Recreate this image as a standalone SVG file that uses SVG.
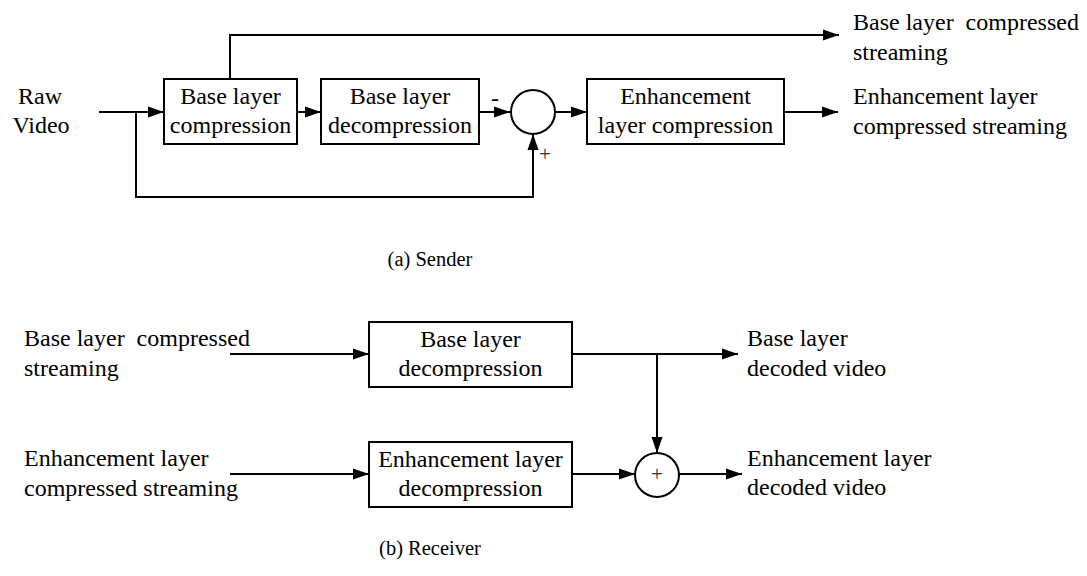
<svg xmlns="http://www.w3.org/2000/svg" width="1087" height="576" viewBox="0 0 1087 576">
<style>
text{font-family:"Liberation Serif","Times New Roman",serif;font-size:24px;fill:#000;white-space:pre}
.c{text-anchor:middle}
.box{fill:#fff;stroke:#000;stroke-width:2}
.ln{fill:none;stroke:#000;stroke-width:2}
.sg{fill:#333}
.cap{font-size:20.5px}
</style>
<defs>
<marker id="ah" markerWidth="16" markerHeight="12" refX="16" refY="6" orient="auto" markerUnits="userSpaceOnUse">
<path d="M0,0.5 L16,6 L0,11.5 Z" fill="#000"/>
</marker>
</defs>
<g id="connectors">
<path class="ln" d="M99,112 H164" marker-end="url(#ah)"/>
<path class="ln" d="M230,79 V35 H839" marker-end="url(#ah)"/>
<path class="ln" d="M297,112 H321" marker-end="url(#ah)"/>
<path class="ln" d="M479,112 H510" marker-end="url(#ah)"/>
<path class="ln" d="M136,112 V197 H533 V134" marker-end="url(#ah)"/>
<path class="ln" d="M555,112 H587" marker-end="url(#ah)"/>
<path class="ln" d="M784,112 H838" marker-end="url(#ah)"/>
<path class="ln" d="M230,354 H369" marker-end="url(#ah)"/>
<path class="ln" d="M572,354 H738" marker-end="url(#ah)"/>
<path class="ln" d="M657,354 V453" marker-end="url(#ah)"/>
<path class="ln" d="M230,474 H369" marker-end="url(#ah)"/>
<path class="ln" d="M572,474 H635" marker-end="url(#ah)"/>
<path class="ln" d="M679,474 H742" marker-end="url(#ah)"/>
</g>
<g id="raw-video"><text x="40" y="104" class="c">Raw</text><text x="41" y="133" class="c">Video</text></g>
<g id="base-comp"><rect class="box" x="164" y="79" width="133" height="65"/><text x="230.5" y="104" class="c">Base layer</text><text x="230.5" y="133" class="c">compression</text></g>
<g id="base-decomp-s"><rect class="box" x="321" y="79" width="158" height="65"/><text x="400" y="104" class="c">Base layer</text><text x="400" y="133" class="c">decompression</text></g>
<g id="sum-s"><circle class="box" cx="533" cy="112" r="22"/><text x="495" y="106" class="c">-</text><text x="545" y="161" class="c sg" style="font-size:22px">+</text></g>
<g id="enh-comp"><rect class="box" x="587" y="79" width="197" height="65"/><text x="685.5" y="104" class="c">Enhancement</text><text x="685.5" y="133" class="c">layer compression</text></g>
<g id="out-base-s"><text x="853" y="30">Base layer  compressed</text><text x="853" y="60">streaming</text></g>
<g id="out-enh-s"><text x="853" y="104">Enhancement layer</text><text x="853" y="134">compressed streaming</text></g>
<g id="cap-a"><text x="430" y="266" class="c cap">(a) Sender</text></g>
<g id="in-base-r"><text x="24" y="346">Base layer  compressed</text><text x="24" y="376">streaming</text></g>
<g id="in-enh-r"><text x="24" y="466">Enhancement layer</text><text x="24" y="496">compressed streaming</text></g>
<g id="base-decomp-r"><rect class="box" x="369" y="322" width="203" height="65"/><text x="470.5" y="347" class="c">Base layer</text><text x="470.5" y="376" class="c">decompression</text></g>
<g id="enh-decomp-r"><rect class="box" x="369" y="442" width="203" height="65"/><text x="470.5" y="467" class="c">Enhancement layer</text><text x="470.5" y="496" class="c">decompression</text></g>
<g id="sum-r"><circle class="box" cx="657" cy="475" r="22"/><text x="657" y="481" class="c sg" style="font-size:22px">+</text></g>
<g id="out-base-r"><text x="747" y="346">Base layer</text><text x="747" y="376">decoded video</text></g>
<g id="out-enh-r"><text x="747" y="466">Enhancement layer</text><text x="747" y="495">decoded video</text></g>
<g id="cap-b"><text x="430" y="555" class="c cap">(b) Receiver</text></g>
</svg>
